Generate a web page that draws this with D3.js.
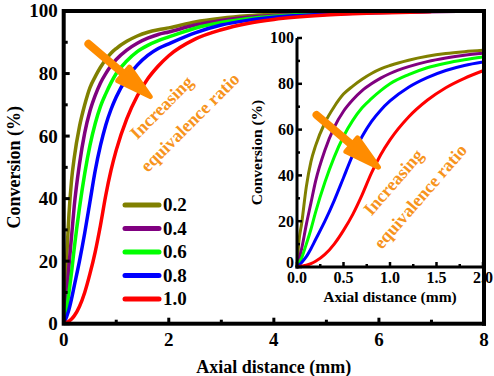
<!DOCTYPE html>
<html>
<head>
<meta charset="utf-8">
<script src="https://cdn.jsdelivr.net/npm/d3@7"></script>
<style>
  body { margin: 0; background: #fff; }
  svg { display: block; }
  svg text { font-family: "Liberation Serif", "Times New Roman", Times, "DejaVu Serif", serif; font-weight: bold; }
</style>
</head>
<body>
<div id="chart"></div>
<script>
'use strict';

// axial distance (mm) shared by every series
var distance = [0, 0.02, 0.05, 0.1, 0.15, 0.2, 0.3, 0.4, 0.5, 0.6, 0.7, 0.8, 0.9, 1.0,
    1.2, 1.4, 1.6, 1.8, 2.0, 2.5, 3, 3.5, 4, 5, 6, 7, 8];

var ratios = ['0.2', '0.4', '0.6', '0.8', '1.0'];
var colors = ['#808000', '#800080', '#00ff00', '#0000ff', '#ff0000'];

// conversion (%) per equivalence ratio
var conv02 = [0, 11, 19, 35, 46, 53, 63, 70, 75.5, 79, 82, 84.5, 86.5, 88,
    90.3, 92, 93.2, 94, 94.6, 96.5, 97.7, 98.5, 99, 99.6, 99.8, 99.9, 100];
var conv04 = [0, 3, 8, 18.5, 28, 37.5, 51, 61, 68, 73, 77, 80, 82.5, 84.5,
    87.5, 89.7, 91.3, 92.5, 93.3, 95.5, 97, 98, 98.6, 99.4, 99.7, 99.9, 100];
var conv06 = [0, 1.5, 4, 10, 16.5, 24, 37, 48, 57, 64, 69.5, 73.5, 77, 80,
    84, 87, 89, 90.5, 91.7, 94.5, 96.3, 97.5, 98.3, 99.2, 99.6, 99.9, 100];
var conv08 = [0, 0.7, 2, 4.5, 8, 12, 20, 29, 39, 49, 57, 63.5, 68.5, 72.5,
    78.5, 82.7, 85.8, 88, 89.5, 93, 95.5, 97, 98, 99, 99.5, 99.8, 100];
var conv10 = [0, 0.2, 0.4, 0.8, 1.5, 2.5, 5.5, 10, 16, 23, 31.5, 41, 49, 55.5,
    65.5, 72.8, 78.3, 82.4, 85.7, 91, 94, 96, 97.3, 98.7, 99.4, 99.8, 100];

var mainXTicks = [0, 2, 4, 6, 8];
var mainYTicks = [0, 20, 40, 60, 80, 100];
var insetXTicks = [0, 0.5, 1.0, 1.5, 2.0];
var insetYTicks = [0, 20, 40, 60, 80, 100];

var series = [conv02, conv04, conv06, conv08, conv10].map(function(vals, i) {
    return {
        name: ratios[i],
        color: colors[i],
        points: vals.map(function(v, j) { return [distance[j], v]; })
    };
});

var width = 494,
    height = 376,
    orange = '#ff8c00',
    serif = '"Liberation Serif", "Times New Roman", Times, "DejaVu Serif", serif';

var svg = d3.select('#chart')
    .append('svg')
    .attr('width', width)
    .attr('height', height)
    .attr('font-family', serif)
    .attr('font-weight', 'bold');

var x = d3.scaleLinear().domain([0, 8]).range([63.7, 484]);
var y = d3.scaleLinear().domain([0, 100]).range([323.7, 11]);

var xi = d3.scaleLinear().domain([0, 2]).range([297, 483]);
var yi = d3.scaleLinear().domain([0, 100]).range([267, 38]);

/**
 * Draws inward ticks and labels on an axis
 */
function drawAxes(g, sx, sy, xTicks, yTicks, xMinor, yMinor, opts) {
    var x0 = sx.range()[0], y0 = sy.range()[0];
    g.selectAll('.xminor').data(xMinor).enter().append('line')
        .attr('x1', sx).attr('x2', sx)
        .attr('y1', y0).attr('y2', y0 - opts.minor)
        .attr('stroke', '#000').attr('stroke-width', opts.tickW);
    g.selectAll('.xmajor').data(xTicks).enter().append('line')
        .attr('x1', sx).attr('x2', sx)
        .attr('y1', y0).attr('y2', y0 - opts.major)
        .attr('stroke', '#000').attr('stroke-width', opts.tickW);
    g.selectAll('.yminor').data(yMinor).enter().append('line')
        .attr('y1', sy).attr('y2', sy)
        .attr('x1', x0).attr('x2', x0 + opts.minor)
        .attr('stroke', '#000').attr('stroke-width', opts.tickW);
    g.selectAll('.ymajor').data(yTicks).enter().append('line')
        .attr('y1', sy).attr('y2', sy)
        .attr('x1', x0).attr('x2', x0 + opts.major)
        .attr('stroke', '#000').attr('stroke-width', opts.tickW);

    g.selectAll('.xlab').data(xTicks).enter().append('text')
        .attr('x', sx).attr('y', y0 + opts.xLabDy)
        .attr('text-anchor', 'middle')
        .style('font-size', opts.font + 'px')
        .text(opts.xFmt);
    g.selectAll('.ylab').data(yTicks).enter().append('text')
        .attr('x', x0 - opts.yLabDx).attr('y', function(d) { return sy(d) - (d === 0 ? opts.zeroLift : 0); })
        .attr('dy', '0.34em')
        .attr('text-anchor', 'end')
        .style('font-size', opts.font + 'px')
        .text(function(d) { return d; });
}

// curves, main plot
var mainLine = d3.line()
    .x(function(d) { return x(d[0]); })
    .y(function(d) { return y(d[1]); })
    .curve(d3.curveMonotoneX);

svg.append('g').selectAll('path').data(series).enter().append('path')
    .attr('d', function(d) { return mainLine(d.points); })
    .attr('fill', 'none')
    .attr('stroke', function(d) { return d.color; })
    .attr('stroke-width', 3.5);

// main frame
svg.append('rect')
    .attr('x', x(0)).attr('y', y(100))
    .attr('width', x(8) - x(0)).attr('height', y(0) - y(100))
    .attr('fill', 'none').attr('stroke', '#000').attr('stroke-width', 4);

drawAxes(svg.append('g'), x, y, mainXTicks, mainYTicks, [1, 3, 5, 7], [10, 30, 50, 70, 90], {
    minor: 4, major: 6, tickW: 3, font: 19, xLabDy: 22, yLabDx: 6, zeroLift: 0,
    xFmt: function(d) { return d; }
});

svg.append('text')
    .attr('x', (x(0) + x(8)) / 2).attr('y', 373)
    .attr('text-anchor', 'middle')
    .style('font-size', '18px')
    .text('Axial distance (mm)');

svg.append('text')
    .attr('transform', 'translate(20,' + y(50) + ') rotate(-90)')
    .attr('text-anchor', 'middle')
    .style('font-size', '18px')
    .text('Conversion (%)');

// legend
var legend = svg.append('g').selectAll('g').data(series).enter().append('g')
    .attr('transform', function(d, i) { return 'translate(125,' + (205 + i * 23.5) + ')'; });
legend.append('line')
    .attr('x1', 0).attr('x2', 34)
    .attr('stroke', function(d) { return d.color; })
    .attr('stroke-width', 5)
    .attr('stroke-linecap', 'round');
legend.append('text')
    .attr('x', 38).attr('dy', '0.34em')
    .style('font-size', '19px')
    .text(function(d) { return d.name; });

// inset
var inset = svg.append('g');
inset.append('rect')
    .attr('x', xi(0)).attr('y', yi(100))
    .attr('width', xi(2) - xi(0)).attr('height', yi(0) - yi(100))
    .attr('fill', '#fff');

var insetLine = d3.line()
    .x(function(d) { return xi(d[0]); })
    .y(function(d) { return yi(d[1]); })
    .curve(d3.curveMonotoneX);

inset.append('g').selectAll('path').data(series).enter().append('path')
    .attr('d', function(d) {
        return insetLine(d.points.filter(function(p) { return p[0] <= 2; }));
    })
    .attr('fill', 'none')
    .attr('stroke', function(d) { return d.color; })
    .attr('stroke-width', 3);

drawAxes(inset.append('g'), xi, yi, insetXTicks, insetYTicks,
    [0.25, 0.75, 1.25, 1.75], [10, 30, 50, 70, 90], {
        minor: 3, major: 5, tickW: 2.5, font: 16, xLabDy: 16, yLabDx: 3, zeroLift: 4,
        xFmt: d3.format('.1f')
    });

inset.append('line')
    .attr('x1', xi(0)).attr('x2', xi(0))
    .attr('y1', yi(0) + 1.5).attr('y2', yi(100))
    .attr('stroke', '#000').attr('stroke-width', 3);
inset.append('line')
    .attr('x1', xi(0) - 1.5).attr('x2', x(8))
    .attr('y1', yi(0)).attr('y2', yi(0))
    .attr('stroke', '#000').attr('stroke-width', 3);

inset.append('text')
    .attr('x', (xi(0) + xi(2)) / 2).attr('y', 302)
    .attr('text-anchor', 'middle')
    .style('font-size', '15.5px')
    .text('Axial distance (mm)');

inset.append('text')
    .attr('transform', 'translate(262,' + yi(50) + ') rotate(-90)')
    .attr('text-anchor', 'middle')
    .style('font-size', '15.5px')
    .text('Conversion (%)');

// redraw the right frame edge over the inset
svg.append('line')
    .attr('x1', x(8)).attr('x2', x(8))
    .attr('y1', y(100) - 2).attr('y2', y(0) + 2)
    .attr('stroke', '#000').attr('stroke-width', 4);

/**
 * Fat orange arrow between two pixel points
 */
function arrow(p0, p1) {
    var dx = p1[0] - p0[0], dy = p1[1] - p0[1];
    var len = Math.sqrt(dx * dx + dy * dy);
    var ang = Math.atan2(dy, dx) * 180 / Math.PI;
    var g = svg.append('g')
        .attr('transform', 'translate(' + p0[0] + ',' + p0[1] + ') rotate(' + ang + ')');
    g.append('line')
        .attr('x1', 0).attr('x2', len - 30)
        .attr('stroke', orange).attr('stroke-width', 8)
        .attr('stroke-linecap', 'round');
    g.append('path')
        .attr('d', 'M' + (len - 38) + ',-9 L' + (len - 3) + ',0 L' + (len - 38) + ',9 Z')
        .attr('fill', orange).attr('stroke', orange)
        .attr('stroke-width', 5).attr('stroke-linejoin', 'round');
}

function label(px, py, rot, str) {
    svg.append('text')
        .attr('transform', 'translate(' + px + ',' + py + ') rotate(' + rot + ')')
        .style('font-size', '18px')
        .attr('fill', '#f7941d')
        .text(str);
}

arrow([x(0.47), y(89.5)], [x(1.69), y(72)]);
label(x(1.40), y(58.7), -45, 'Increasing');
label(x(1.60), y(48.2), -45, 'equivalence ratio');

arrow([xi(0.21), yi(66.4)], [xi(0.90), yi(42.7)]);
label(xi(0.80), yi(22), -49, 'Increasing');
label(xi(0.91), yi(7.4), -49, 'equivalence ratio');
</script>
</body>
</html>
